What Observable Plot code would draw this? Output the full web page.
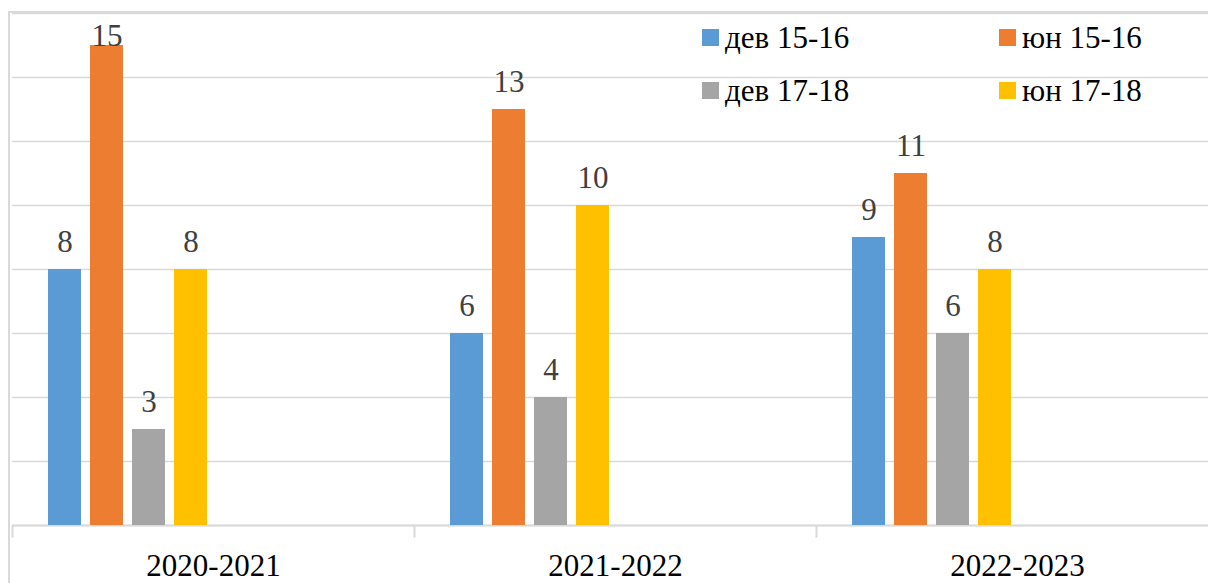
<!DOCTYPE html>
<html><head><meta charset="utf-8">
<script src="https://cdn.jsdelivr.net/npm/d3@7"></script>
<script src="https://cdn.jsdelivr.net/npm/@observablehq/plot@0.6"></script>
<style>
html,body{margin:0;padding:0;background:#fff;overflow:hidden;}
#wrap{position:relative;width:1208px;height:583px;overflow:hidden;font-family:"Times New Roman","Liberation Serif",serif;}
#border{position:absolute;left:8px;top:11px;width:1300px;height:700px;border-left:2px solid #d9d9d9;border-top:2px solid #d9d9d9;box-sizing:border-box;}
#chart{position:absolute;left:0;top:0;width:1218px;}
#chart svg{max-width:none !important;}
#legend{position:absolute;left:702px;top:11px;display:grid;grid-template-columns:297px 297px;font-size:31px;color:#000;font-family:"Times New Roman","Liberation Serif",serif;}
.item{display:flex;align-items:center;height:53px;white-space:nowrap;}
.sw{width:17px;height:17px;margin-right:6px;flex:none;}
</style>
</head>
<body>
<div id="wrap">
  <div id="border"></div>
  <div id="chart"></div>
  <div id="legend"></div>
</div>
<script>
const years = ["2020-2021", "2021-2022", "2022-2023"];
const series = ["дев 15-16", "юн 15-16", "дев 17-18", "юн 17-18"];
const colors = ["#5B9BD5", "#ED7D31", "#A5A5A5", "#FFC000"];
const dev1516 = [8, 6, 9];
const yun1516 = [15, 13, 11];
const dev1718 = [3, 4, 6];
const yun1718 = [8, 10, 8];

const seriesValues = [dev1516, yun1516, dev1718, yun1718];
const rows = [];
years.forEach((y, i) => {
  series.forEach((s, j) => rows.push({year: y, series: s, value: seriesValues[j][i]}));
});

const serif = "'Times New Roman','Liberation Serif',serif";
const grid = "#d9d9d9";
const chart = Plot.plot({
  width: 1218,
  height: 583,
  marginTop: 13,
  marginBottom: 58,
  marginLeft: 12,
  marginRight: 0,
  style: {fontFamily: serif, fontSize: "31px", color: "#000", background: "transparent", overflow: "visible", maxWidth: "none"},
  fx: {domain: years, padding: 0, axis: "bottom", tickSize: 0, tickPadding: 28, label: null},
  x: {domain: series, paddingInner: 0.2205, paddingOuter: 2.859, align: 0.1488, axis: null},
  y: {domain: [0, 16], axis: null},
  color: {domain: series, range: colors},
  marks: [
    Plot.gridY({ticks: 8, stroke: grid, strokeOpacity: 1, strokeWidth: 1.5}),
    Plot.ruleY([0], {stroke: grid, strokeWidth: 2}),
    Plot.frame({anchor: "left", stroke: grid, strokeWidth: 2, insetTop: 513, insetBottom: -11}),
    Plot.barY(rows, {fx: "year", x: "series", y: "value", fill: "series"}),
    Plot.text(rows.filter(d => d.value < 15), {fx: "year", x: "series", y: "value", text: d => String(d.value), lineAnchor: "bottom", dy: -18, fill: "#404040", fontFamily: serif, fontSize: 31}),
    Plot.text(rows.filter(d => d.value >= 15), {fx: "year", x: "series", y: "value", text: d => String(d.value), lineAnchor: "bottom", dy: 0, fill: "#404040", fontFamily: serif, fontSize: 31})
  ]
});
document.getElementById("chart").appendChild(chart);

const legend = document.getElementById("legend");
series.forEach((s, i) => {
  const item = document.createElement("div");
  item.className = "item";
  const sw = document.createElement("span");
  sw.className = "sw";
  sw.style.background = colors[i];
  const t = document.createElement("span");
  t.textContent = s;
  item.appendChild(sw);
  item.appendChild(t);
  legend.appendChild(item);
});
</script>
</body></html>
